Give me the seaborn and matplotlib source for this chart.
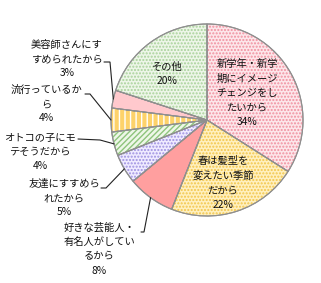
import numpy as np
import matplotlib
matplotlib.use("Agg")
import matplotlib.pyplot as plt
import seaborn as sns

sns.set_style("white")
plt.rcParams['font.family'] = ['Noto Sans CJK JP', 'DejaVu Sans']

# ---- data ----
labels = [
    "新学年・新学\n期にイメージ\nチェンジをし\nたいから",
    "春は髪型を\n変えたい季節\nだから",
    "好きな芸能人・\n有名人がしてい\nるから",
    "友達にすすめら\nれたから",
    "オトコの子にモ\nテそうだから",
    "流行っているか\nら",
    "美容師さんにす\nすめられたから",
    "その他",
]
values = [34, 22, 8, 5, 4, 4, 3, 20]

# ---- styles ----
faces = ['#fde6ea', '#fff0bf', '#ff9f9f', '#efebff', '#eef7e8', '#fdd26a', '#ffc9cd', '#edf6e8']
hatch_colors = ['#f0909f', '#f2c54a', None, '#9d90e0', '#8ec47c', '#ffffff', None, '#a9d29a']
hatches = ['.....', '.....', None, '.....', '//////', '|||', None, '.....']

W, H = 321, 283
fig = plt.figure(figsize=(W / 100, H / 100), dpi=100)
ax = fig.add_axes([0, 0, 1, 1])
ax.set_xlim(0, W)
ax.set_ylim(0, H)
ax.axis('off')

cx, cy, r = 207, H - 120, 96

wedges, _ = ax.pie(values, startangle=90, counterclock=False, center=(cx, cy), radius=r,
                   colors=faces, wedgeprops=dict(edgecolor='#8f8f8f', linewidth=0.8))
ax.set_xlim(0, W)
ax.set_ylim(0, H)
ax.set_aspect('equal')

# hatch overlays
for w, hc, ht in zip(wedges, hatch_colors, hatches):
    if ht is None:
        continue
    ov = matplotlib.patches.Wedge((cx, cy), r, w.theta1, w.theta2, facecolor='none',
                                  edgecolor=hc, linewidth=0, hatch=ht)
    ax.add_patch(ov)
# redraw edges on top
for w in wedges:
    ed = matplotlib.patches.Wedge((cx, cy), r, w.theta1, w.theta2, facecolor='none',
                                  edgecolor='#8f8f8f', linewidth=0.8)
    ax.add_patch(ed)

fs = 7.4
ls = 1.55

def txt(x, y, s):
    ax.text(x, H - y, s, ha='center', va='center', fontsize=fs, linespacing=ls, color='#111111')

# inside labels
txt(247, 93, labels[0] + f"\n{values[0]}%")
txt(223, 183, labels[1] + f"\n{values[1]}%")
txt(167, 74, labels[7] + f"\n{values[7]}%")

# outside labels: (label center, line start, knee)
outside = {
    2: ((99, 249), (141, 232), (144, 232)),
    3: ((64, 198), (101, 188), (106, 188)),
    4: ((40, 152), (78, 139), (100, 140)),
    5: ((46, 104), (85, 94), (90, 94)),
    6: ((67, 59), (104, 62), (110, 62)),
}
for i, (lc, st, kn) in outside.items():
    txt(lc[0], lc[1], labels[i] + f"\n{values[i]}%")
    w = wedges[i]
    mid = np.deg2rad((w.theta1 + w.theta2) / 2)
    ex, ey = cx + r * np.cos(mid), cy + r * np.sin(mid)
    ax.plot([st[0], kn[0], ex], [H - st[1], H - kn[1], ey], color='#222222', lw=0.8,
            solid_joinstyle='miter')

fig.savefig('out.png', dpi=100)
